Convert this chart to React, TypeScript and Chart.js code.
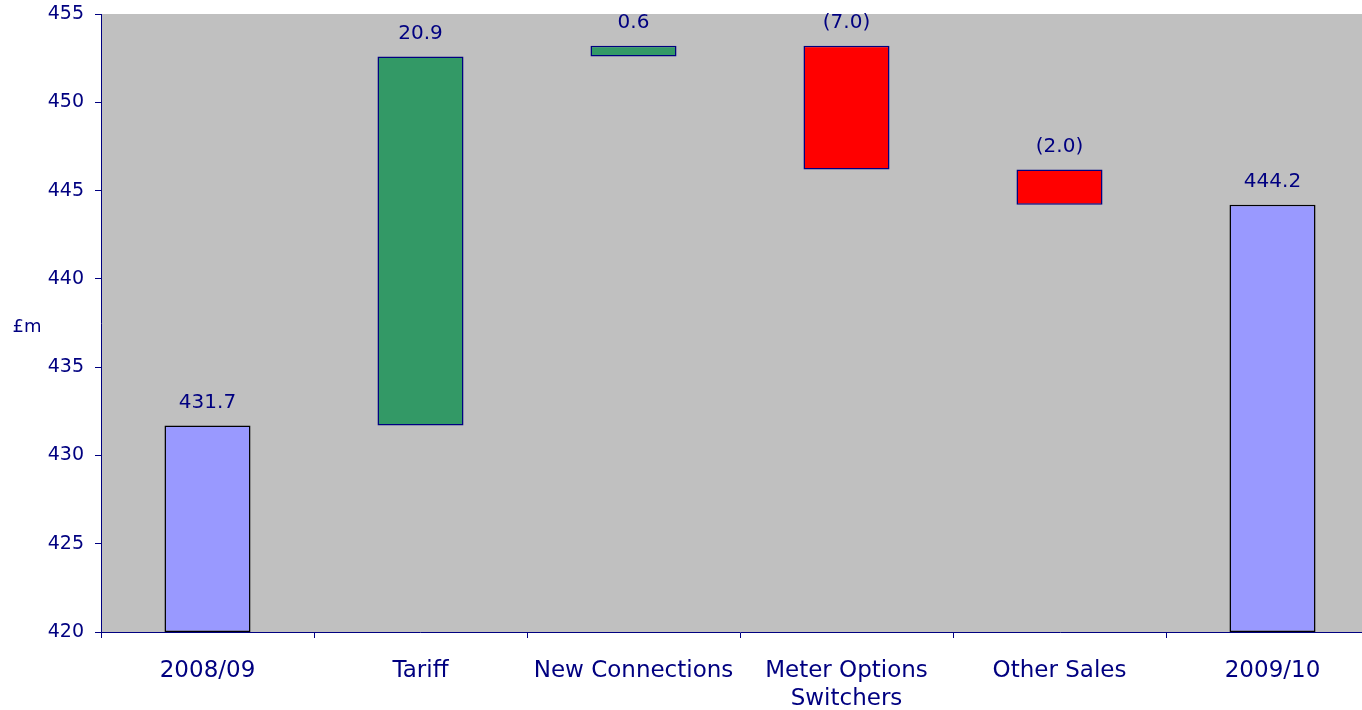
import React, { useEffect, useRef } from "react";
import { Chart, registerables } from "chart.js";

Chart.register(...registerables);

const categories: (string | string[])[] = [
  "2008/09",
  "Tariff",
  "New Connections",
  ["Meter Options", "Switchers"],
  "Other Sales",
  "2009/10",
];
const startValue = 431.7;
const changes = [20.9, 0.6, -7.0, -2.0];
const endValue = 444.2;
const yTicks = [420, 425, 430, 435, 440, 445, 450, 455];

const NAVY = "#000080";
const FONT = "'DejaVu Sans', Verdana, sans-serif";

function buildRanges() {
  const ranges: [number, number][] = [[420, startValue]];
  let run = startValue;
  changes.forEach((c) => {
    const next = Math.round((run + c) * 10) / 10;
    ranges.push([Math.min(run, next), Math.max(run, next)]);
    run = next;
  });
  ranges.push([420, endValue]);
  return ranges;
}

function labelTexts() {
  const out: string[] = [startValue.toFixed(1)];
  changes.forEach((c) => out.push(c < 0 ? `(${Math.abs(c).toFixed(1)})` : c.toFixed(1)));
  out.push(endValue.toFixed(1));
  return out;
}

export default function App() {
  const ref = useRef<HTMLCanvasElement>(null);

  useEffect(() => {
    if (!ref.current) return;
    const ranges = buildRanges();
    const texts = labelTexts();
    const n = categories.length;
    const fills = ranges.map((_, i) =>
      i === 0 || i === n - 1 ? "#9999FF" : changes[i - 1] >= 0 ? "#339966" : "#FF0000"
    );
    const borders = ranges.map((_, i) => (i === 0 || i === n - 1 ? "#000000" : NAVY));

    const bgPlugin = {
      id: "bg",
      beforeDraw(chart: any) {
        const { ctx, chartArea } = chart;
        ctx.save();
        ctx.fillStyle = "#C0C0C0";
        ctx.fillRect(chartArea.left, chartArea.top, chartArea.right - chartArea.left, chartArea.bottom - chartArea.top);
        ctx.restore();
      },
    };

    const labelPlugin = {
      id: "labels",
      afterDatasetsDraw(chart: any) {
        const { ctx, chartArea } = chart;
        const meta = chart.getDatasetMeta(0);
        ctx.save();
        ctx.font = `20px ${FONT}`;
        ctx.fillStyle = NAVY;
        ctx.textAlign = "center";
        ctx.textBaseline = "middle";
        meta.data.forEach((bar: any, i: number) => {
          const top = Math.min(bar.y, bar.base);
          ctx.fillText(texts[i], bar.x, top - 23);
        });
        ctx.font = `18px ${FONT}`;
        ctx.fillText("£m", 27, (chartArea.top + chartArea.bottom) / 2 + 4);
        ctx.restore();
      },
    };

    const chart = new Chart(ref.current, {
      type: "bar",
      data: {
        labels: categories,
        datasets: [
          {
            data: ranges as any,
            backgroundColor: fills,
            borderColor: borders,
            borderWidth: 1.5,
            borderSkipped: false,
            categoryPercentage: 1,
            barPercentage: 0.404,
          },
        ],
      },
      options: {
        responsive: false,
        animation: false,
        devicePixelRatio: 1,
        layout: { padding: { top: 14, right: 0, left: 0, bottom: 0 } },
        plugins: { legend: { display: false }, tooltip: { enabled: false } },
        scales: {
          x: {
            grid: {
              display: true,
              drawOnChartArea: false,
              drawTicks: true,
              tickLength: 6,
              color: NAVY,
              offset: true,
            },
            border: { display: true, color: NAVY, width: 1 },
            ticks: {
              color: NAVY,
              font: { family: FONT, size: 23, lineHeight: 1.22 },
              padding: 19,
              maxRotation: 0,
              autoSkip: false,
            },
            afterFit(scale: any) {
              scale.height = 78;
              scale.paddingLeft = 0;
              scale.paddingRight = 0;
            },
          },
          y: {
            min: 420,
            max: 455,
            afterBuildTicks(scale: any) {
              scale.ticks = yTicks.map((v) => ({ value: v }));
            },
            grid: {
              display: true,
              drawOnChartArea: false,
              drawTicks: true,
              tickLength: 6,
              color: NAVY,
            },
            border: { display: true, color: NAVY, width: 1 },
            ticks: {
              color: NAVY,
              font: { family: FONT, size: 19 },
              padding: 11,
            },
            afterFit(scale: any) {
              scale.width = 101;
              scale.paddingTop = 0;
              scale.paddingBottom = 0;
            },
          },
        },
      },
      plugins: [bgPlugin, labelPlugin],
    });
    return () => chart.destroy();
  }, []);

  return (
    <div style={{ position: "fixed", left: 0, top: 0, width: 1362, height: 710, overflow: "hidden", background: "#fff" }}>
      <canvas ref={ref} width={1379} height={710} style={{ width: 1379, height: 710, display: "block" }} />
    </div>
  );
}
